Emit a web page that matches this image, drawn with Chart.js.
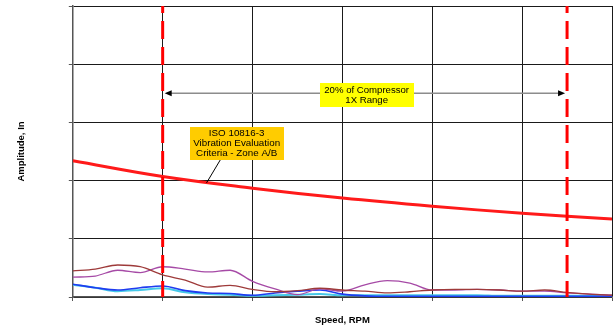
<!DOCTYPE html>
<html>
<head>
<meta charset="utf-8">
<script src="https://cdn.jsdelivr.net/npm/chart.js@4"></script>
<style>
  html, body { margin: 0; padding: 0; background: #fff; }
  #wrap { width: 615px; height: 331px; }
</style>
</head>
<body>
<div id="wrap"><canvas id="chart" width="615" height="331"></canvas></div>
<script>
// speed axis (RPM) shared by the four measured traces
const rpm = [0, 250, 500, 750, 1000, 1250, 1500, 1750, 2000, 2250, 2500, 2750, 3000,
             3250, 3500, 3750, 4000, 4250, 4500, 4750, 5000, 5250, 5500, 5750, 6000];
const brownAmp  = [0.45, 0.48, 0.55, 0.52, 0.38, 0.29, 0.17, 0.20, 0.13, 0.09, 0.11, 0.15, 0.12,
                   0.10, 0.07, 0.09, 0.12, 0.13, 0.13, 0.12, 0.10, 0.12, 0.08, 0.05, 0.03];
const purpleAmp = [0.34, 0.36, 0.46, 0.42, 0.52, 0.48, 0.43, 0.46, 0.27, 0.14, 0.04, 0.14, 0.10,
                   0.21, 0.28, 0.24, 0.12, 0.12, 0.13, 0.12, 0.10, 0.10, 0.07, 0.05, 0.03];
const blueAmp   = [0.22, 0.16, 0.12, 0.16, 0.19, 0.11, 0.07, 0.06, 0.03, 0.07, 0.10, 0.12, 0.05,
                   0.02, 0.01, 0.01, 0.01, 0.01, 0.01, 0.01, 0.01, 0.01, 0.01, 0.01, 0.01];
const cyanAmp   = [0.21, 0.16, 0.10, 0.12, 0.15, 0.08, 0.05, 0.04, 0.02, 0.03, 0.04, 0.05, 0.03,
                   0.03, 0.03, 0.03, 0.03, 0.03, 0.03, 0.02, 0.02, 0.02, 0.02, 0.02, 0.02];

// ISO 10816-3 zone A/B limit
const criteriaRpm = [0, 1000, 2000, 3000, 4000, 5000, 6000];
const criteriaAmp = [2.34, 2.07, 1.87, 1.70, 1.56, 1.44, 1.34];

// compressor 1X range limits
const rangeLow = 1000;
const rangeHigh = 5500;
const rangeArrowAmp = 3.5;

const rangeLabel = ['20% of Compressor', '1X Range'];
const isoLabel = ['ISO 10816-3', 'Vibration Evaluation', 'Criteria - Zone A/B'];

const FONT = "'Liberation Sans', Arial, sans-serif";

const pts = (xs, ys) => xs.map((x, i) => ({ x: x, y: ys[i] }));

const trace = (ys, color, width) => ({
  data: pts(rpm, ys),
  borderColor: color,
  borderWidth: width,
  pointRadius: 0,
  cubicInterpolationMode: 'monotone',
  fill: false,
});

const limitLine = (x) => ({
  data: [{ x: x, y: 5 }, { x: x, y: 0 }],
  borderColor: '#ff0000',
  borderWidth: 3,
  borderDash: [18, 8],
  borderDashOffset: 11,
  pointRadius: 0,
  borderCapStyle: 'butt',
});

function drawBox(ctx, cx, cy, w, h, fill, lines, size, lh) {
  ctx.fillStyle = fill;
  ctx.fillRect(Math.round(cx - w / 2), Math.round(cy - h / 2), w, h);
  ctx.fillStyle = '#000';
  ctx.font = size + 'px ' + FONT;
  ctx.textAlign = 'center';
  ctx.textBaseline = 'middle';
  const y0 = cy - (lines.length - 1) * lh / 2;
  lines.forEach((t, i) => ctx.fillText(t, cx, y0 + i * lh));
}

function arrowHead(ctx, x, y, dir) {
  ctx.beginPath();
  ctx.moveTo(x, y);
  ctx.lineTo(x + dir * 7, y - 3);
  ctx.lineTo(x + dir * 7, y + 3);
  ctx.closePath();
  ctx.fill();
}

const notes = {
  id: 'notes',
  afterDatasetsDraw(chart) {
    const ctx = chart.ctx;
    const xs = chart.scales.x, ys = chart.scales.y;
    ctx.save();

    // range arrow
    const ay = ys.getPixelForValue(rangeArrowAmp);
    const ax1 = xs.getPixelForValue(rangeLow) + 2;
    const ax2 = xs.getPixelForValue(rangeHigh) - 2;
    ctx.strokeStyle = '#8c8c8c';
    ctx.lineWidth = 1.5;
    ctx.beginPath();
    ctx.moveTo(ax1 + 4, ay);
    ctx.lineTo(ax2 - 4, ay);
    ctx.stroke();
    ctx.fillStyle = '#000';
    arrowHead(ctx, ax1, ay, 1);
    arrowHead(ctx, ax2, ay, -1);

    drawBox(ctx, xs.getPixelForValue(3270), ys.getPixelForValue(3.466), 94, 24,
            '#ffff00', rangeLabel, 9.6, 10);

    // pointer from ISO label to the limit curve
    ctx.strokeStyle = '#000';
    ctx.lineWidth = 1;
    ctx.beginPath();
    ctx.moveTo(xs.getPixelForValue(1670), ys.getPixelForValue(2.43));
    ctx.lineTo(xs.getPixelForValue(1488), ys.getPixelForValue(1.96));
    ctx.stroke();

    drawBox(ctx, xs.getPixelForValue(1823), ys.getPixelForValue(2.645), 94, 33,
            '#ffcc00', isoLabel, 9.8, 9.8);
    ctx.restore();
  }
};

new Chart(document.getElementById('chart'), {
  type: 'line',
  data: {
    datasets: [
      limitLine(rangeLow),
      limitLine(rangeHigh),
      {
        data: pts(criteriaRpm, criteriaAmp),
        borderColor: '#ff1a1a',
        borderWidth: 3,
        pointRadius: 0,
        tension: 0.4,
      },
      trace(brownAmp, '#9e3a3a', 1.3),
      trace(purpleAmp, '#a64aa6', 1.3),
      trace(blueAmp, '#1f3cf0', 1.6),
      trace(cyanAmp, '#45c8e8', 2),
    ],
  },
  options: {
    responsive: false,
    animation: false,
    layout: { padding: { top: 6, right: 3, left: 0, bottom: 0 } },
    plugins: { legend: { display: false }, tooltip: { enabled: false } },
    scales: {
      x: {
        type: 'linear',
        min: 0,
        max: 6000,
        ticks: { display: false, stepSize: 1000 },
        grid: { color: '#1a1a1a', lineWidth: 1, tickLength: 4, tickColor: '#555' },
        border: { color: '#555', width: 1.5 },
        title: {
          display: true,
          text: 'Speed, RPM',
          color: '#000',
          font: { family: FONT, size: 9.5, weight: 'bold' },
          padding: { top: 13.4, bottom: 5.2 },
        },
      },
      y: {
        min: 0,
        max: 5,
        ticks: { display: false, stepSize: 1 },
        grid: { color: '#1a1a1a', lineWidth: 1, tickLength: 4, tickColor: '#555' },
        border: { color: '#555', width: 1.5 },
        title: {
          display: true,
          text: 'Amplitude, In',
          color: '#000',
          font: { family: FONT, size: 9.5, weight: 'bold' },
          padding: { top: 15.2, bottom: 42.2 },
        },
      },
    },
  },
  plugins: [notes],
});
</script>
</body>
</html>
